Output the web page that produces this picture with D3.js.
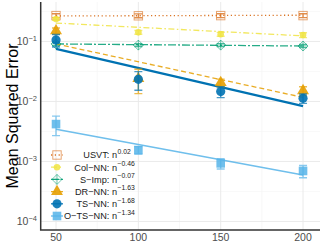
<!DOCTYPE html>
<html>
<head>
<meta charset="utf-8">
<script src="https://cdn.jsdelivr.net/npm/d3@7"></script>
<style>
  body { margin: 0; background: #fff; }
  svg { display: block; font-family: "Liberation Sans", Arial, sans-serif; }
</style>
</head>
<body>
<svg id="chart"></svg>
<script>
const W = 323;
const H = 243;

// ── Data ──────────────────────────────────────────────────────────────────────

const SIZES     = [50, 100, 150, 200];
const METHODS   = ['USVT', 'Col−NN', 'S−Imp', 'DR−NN', 'TS−NN', 'O−TS−NN'];
const EXPONENTS = ['0.02', '−0.46', '−0.07', '−1.63', '−1.68', '−1.34'];

// mean MSE per method, one value per size
const MEAN = [
  [0.27,   0.268,   0.27,    0.27],     // USVT
  [0.237,  0.142,   0.132,   0.128],    // Col-NN
  [0.091,  0.087,   0.087,   0.084],    // S-Imp
  [0.15,   0.024,   0.0206,  0.0151],   // DR-NN
  [0.106,  0.0234,  0.0146,  0.0113],   // TS-NN
  [0.0042, 0.00155, 0.00093, 0.000695], // O-TS-NN
];

// standard deviation (error bars)
const SD = [
  [0.02,   0.02,    0.02,    0.02],
  [0.012,  0.01,    0.01,    0.012],
  [0.006,  0.005,   0.005,   0.005],
  [0.018,  0.0105,  0.003,   0.0025],
  [0.025,  0.008,   0.003,   0.002],
  [0.0015, 0.00022, 0.00018, 0.00016],
];

// fitted power law, value at n = 50 and n = 200
const FIT_START = [0.266, 0.203, 0.091, 0.091,  0.075,  0.00344];
const FIT_END   = [0.274, 0.124, 0.084, 0.0117, 0.0084, 0.000596];

const X_TICKS       = [50, 100, 150, 200];
const X_MINOR       = [75, 125, 175];
const Y_EXPONENTS   = [-1, -2, -3, -4];
const Y_MINOR_EXPS  = [-0.5, -1.5, -2.5, -3.5];

// ── Styles ────────────────────────────────────────────────────────────────────

const COLORS = ['#D55E00', '#F0E442', '#009E73', '#E69F00', '#0072B2', '#56B4E9'];
const DASHES = ['1.2,2.6', '6,2.5,1.5,2.5', '8,2,2,2', '5,3', null, null];
const LINE_W = [1.3, 1.3, 1.3, 1.3, 2.3, 1.5];
const SHAPES = ['openSquare', 'dot', 'diamondPlus', 'triangle', 'circle', 'square'];

const M = { left: 40.7, right: 320, top: 2, bottom: 230 };

// ── Scales ────────────────────────────────────────────────────────────────────

const x = d3.scaleLinear().domain([40.7, 210.3]).range([M.left, M.right]);
const y = d3.scaleLog()
  .domain([Math.pow(10, -4.142), Math.pow(10, -0.342)])
  .range([M.bottom, M.top]);

const svg = d3.select('#chart').attr('width', W).attr('height', H);

// ── Grid ──────────────────────────────────────────────────────────────────────

const grid = svg.append('g');
grid.selectAll('.xminor').data(X_MINOR).join('line')
  .attr('x1', d => x(d)).attr('x2', d => x(d))
  .attr('y1', M.top).attr('y2', M.bottom)
  .attr('stroke', '#f3f3f3').attr('stroke-width', 0.6);
grid.selectAll('.yminor').data(Y_MINOR_EXPS).join('line')
  .attr('y1', d => y(Math.pow(10, d))).attr('y2', d => y(Math.pow(10, d)))
  .attr('x1', M.left).attr('x2', M.right)
  .attr('stroke', '#f3f3f3').attr('stroke-width', 0.6);
grid.selectAll('.xmajor').data(X_TICKS).join('line')
  .attr('x1', d => x(d)).attr('x2', d => x(d))
  .attr('y1', M.top).attr('y2', M.bottom)
  .attr('stroke', '#e8e8e8').attr('stroke-width', 0.9);
grid.selectAll('.ymajor').data(Y_EXPONENTS).join('line')
  .attr('y1', d => y(Math.pow(10, d))).attr('y2', d => y(Math.pow(10, d)))
  .attr('x1', M.left).attr('x2', M.right)
  .attr('stroke', '#e8e8e8').attr('stroke-width', 0.9);

// ── Markers ───────────────────────────────────────────────────────────────────

function drawMarker(sel, shape, color, cx, cy, scale = 1) {
  const gm = sel.append('g').attr('transform', `translate(${cx},${cy})`);
  if (shape === 'openSquare') {
    const s = 4.2 * scale;
    gm.append('rect').attr('x', -s).attr('y', -s).attr('width', 2 * s).attr('height', 2 * s)
      .attr('fill', 'none').attr('stroke', color).attr('stroke-width', 1).attr('opacity', 0.55);
  } else if (shape === 'dot') {
    gm.append('circle').attr('r', 3.3 * scale).attr('fill', color).attr('opacity', 0.85);
  } else if (shape === 'diamondPlus') {
    const s = 5 * scale;
    gm.append('path')
      .attr('d', `M0,${-s}L${s},0L0,${s}L${-s},0Z M0,${-s}V${s} M${-s},0H${s}`)
      .attr('fill', 'none').attr('stroke', color).attr('stroke-width', 1).attr('opacity', 0.55);
  } else if (shape === 'triangle') {
    gm.append('path').attr('d', d3.symbol(d3.symbolTriangle, 62 * scale * scale)())
      .attr('fill', color).attr('opacity', 0.9);
  } else if (shape === 'circle') {
    gm.append('circle').attr('r', 4.6 * scale).attr('fill', color).attr('opacity', 0.9);
  } else if (shape === 'square') {
    const s = 4.3 * scale;
    gm.append('rect').attr('x', -s).attr('y', -s).attr('width', 2 * s).attr('height', 2 * s)
      .attr('fill', color).attr('opacity', 0.85);
  }
}

// ── Fit lines ─────────────────────────────────────────────────────────────────

const plot = svg.append('g');
METHODS.forEach((m, i) => {
  plot.append('line')
    .attr('x1', x(SIZES[0])).attr('y1', y(FIT_START[i]))
    .attr('x2', x(SIZES[SIZES.length - 1])).attr('y2', y(FIT_END[i]))
    .attr('stroke', COLORS[i]).attr('stroke-width', LINE_W[i])
    .attr('stroke-dasharray', DASHES[i])
    .attr('opacity', i === 4 ? 1 : 0.85);
});

// ── Error bars & points ───────────────────────────────────────────────────────

METHODS.forEach((m, i) => {
  const g = plot.append('g');
  SIZES.forEach((n, j) => {
    const lo = y(Math.max(MEAN[i][j] - SD[i][j], 1e-6));
    const hi = y(MEAN[i][j] + SD[i][j]);
    const cx = x(n);
    g.append('path')
      .attr('d', `M${cx - 4},${hi}H${cx + 4}M${cx},${hi}V${lo}M${cx - 4},${lo}H${cx + 4}`)
      .attr('fill', 'none').attr('stroke', COLORS[i]).attr('stroke-width', 1.4)
      .attr('opacity', 0.7);
  });
  SIZES.forEach((n, j) => drawMarker(g, SHAPES[i], COLORS[i], x(n), y(MEAN[i][j])));
});

// ── Axes ──────────────────────────────────────────────────────────────────────

svg.append('path')
  .attr('d', `M${M.left},${M.top}V${M.bottom}H${M.right}`)
  .attr('fill', 'none').attr('stroke', '#333').attr('stroke-width', 1.5);

svg.selectAll('.xlab').data(X_TICKS).join('text')
  .attr('x', d => x(d)).attr('y', 241)
  .attr('text-anchor', 'middle').attr('font-size', 10.5).attr('fill', '#4d4d4d')
  .text(d => d);

const yl = svg.selectAll('.ylab').data(Y_EXPONENTS).join('text')
  .attr('x', 37).attr('y', d => y(Math.pow(10, d)) + 4)
  .attr('text-anchor', 'end').attr('font-size', 10.5).attr('fill', '#4d4d4d');
yl.append('tspan').text('10');
yl.append('tspan').attr('dy', -4.5).attr('font-size', 7.5).text(d => '−' + Math.abs(d));

svg.append('text')
  .attr('transform', `translate(18,${(M.top + M.bottom) / 2}) rotate(-90)`)
  .attr('text-anchor', 'middle').attr('font-size', 16).attr('fill', '#000')
  .text('Mean Squared Error');

// ── Legend ────────────────────────────────────────────────────────────────────

const legend = svg.append('g');
METHODS.forEach((m, i) => {
  const ly = 155 + i * 12.2;
  legend.append('line')
    .attr('x1', 51).attr('x2', 63).attr('y1', ly).attr('y2', ly)
    .attr('stroke', COLORS[i]).attr('stroke-width', Math.min(LINE_W[i], 1.4))
    .attr('stroke-dasharray', DASHES[i]).attr('opacity', 0.85);
  drawMarker(legend, SHAPES[i], COLORS[i], 57, ly, 1);
  legend.append('text')
    .attr('x', 117).attr('y', ly + 3.3)
    .attr('text-anchor', 'end').attr('font-size', 9.2).attr('fill', '#1a1a1a')
    .text(`${m}: n`);
  legend.append('text')
    .attr('x', 117.5).attr('y', ly - 1.2)
    .attr('font-size', 6.8).attr('fill', '#1a1a1a')
    .text(EXPONENTS[i]);
});
</script>
</body>
</html>
